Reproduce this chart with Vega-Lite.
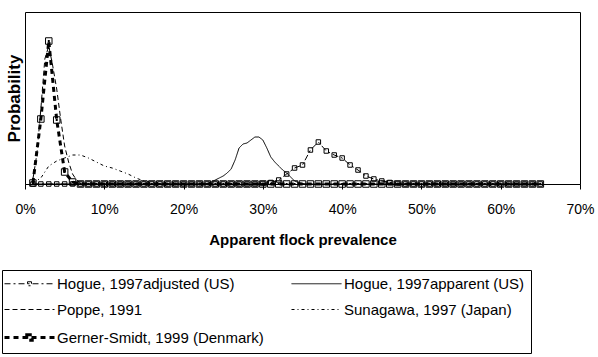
{
  "$schema": "https://vega.github.io/schema/vega-lite/v6.json",
  "autosize": {"type": "none"},
  "width": 555,
  "height": 172,
  "padding": {"left": 25, "top": 12, "right": 18, "bottom": 173},
  "background": "white",
  "config": {
    "font": "Liberation Sans",
    "view": {"stroke": "black", "strokeWidth": 1},
    "axis": {"labelFont": "Liberation Sans", "titleFont": "Liberation Sans", "labelColor": "black", "titleColor": "black", "domainColor": "black", "tickColor": "black", "grid": false}
  },
  "datasets": {
    "d": [
      {"series": "Hogue, 1997adjusted (US)", "prevalence": 0.01, "probability": 0},
      {"series": "Hogue, 1997adjusted (US)", "prevalence": 0.02, "probability": 0},
      {"series": "Hogue, 1997adjusted (US)", "prevalence": 0.03, "probability": 0},
      {"series": "Hogue, 1997adjusted (US)", "prevalence": 0.04, "probability": 0},
      {"series": "Hogue, 1997adjusted (US)", "prevalence": 0.05, "probability": 0},
      {"series": "Hogue, 1997adjusted (US)", "prevalence": 0.06, "probability": 0},
      {"series": "Hogue, 1997adjusted (US)", "prevalence": 0.07, "probability": 0},
      {"series": "Hogue, 1997adjusted (US)", "prevalence": 0.08, "probability": 0},
      {"series": "Hogue, 1997adjusted (US)", "prevalence": 0.09, "probability": 0},
      {"series": "Hogue, 1997adjusted (US)", "prevalence": 0.10, "probability": 0},
      {"series": "Hogue, 1997adjusted (US)", "prevalence": 0.11, "probability": 0},
      {"series": "Hogue, 1997adjusted (US)", "prevalence": 0.12, "probability": 0},
      {"series": "Hogue, 1997adjusted (US)", "prevalence": 0.13, "probability": 0},
      {"series": "Hogue, 1997adjusted (US)", "prevalence": 0.14, "probability": 0},
      {"series": "Hogue, 1997adjusted (US)", "prevalence": 0.15, "probability": 0},
      {"series": "Hogue, 1997adjusted (US)", "prevalence": 0.16, "probability": 0},
      {"series": "Hogue, 1997adjusted (US)", "prevalence": 0.17, "probability": 0},
      {"series": "Hogue, 1997adjusted (US)", "prevalence": 0.18, "probability": 0},
      {"series": "Hogue, 1997adjusted (US)", "prevalence": 0.19, "probability": 0},
      {"series": "Hogue, 1997adjusted (US)", "prevalence": 0.20, "probability": 0},
      {"series": "Hogue, 1997adjusted (US)", "prevalence": 0.21, "probability": 0},
      {"series": "Hogue, 1997adjusted (US)", "prevalence": 0.22, "probability": 0},
      {"series": "Hogue, 1997adjusted (US)", "prevalence": 0.23, "probability": 0},
      {"series": "Hogue, 1997adjusted (US)", "prevalence": 0.24, "probability": 0},
      {"series": "Hogue, 1997adjusted (US)", "prevalence": 0.25, "probability": 0},
      {"series": "Hogue, 1997adjusted (US)", "prevalence": 0.26, "probability": 0},
      {"series": "Hogue, 1997adjusted (US)", "prevalence": 0.27, "probability": 0},
      {"series": "Hogue, 1997adjusted (US)", "prevalence": 0.28, "probability": 0},
      {"series": "Hogue, 1997adjusted (US)", "prevalence": 0.29, "probability": 0},
      {"series": "Hogue, 1997adjusted (US)", "prevalence": 0.30, "probability": 0.0005},
      {"series": "Hogue, 1997adjusted (US)", "prevalence": 0.31, "probability": 0.0015},
      {"series": "Hogue, 1997adjusted (US)", "prevalence": 0.32, "probability": 0.004},
      {"series": "Hogue, 1997adjusted (US)", "prevalence": 0.33, "probability": 0.010},
      {"series": "Hogue, 1997adjusted (US)", "prevalence": 0.34, "probability": 0.016},
      {"series": "Hogue, 1997adjusted (US)", "prevalence": 0.35, "probability": 0.019},
      {"series": "Hogue, 1997adjusted (US)", "prevalence": 0.36, "probability": 0.034},
      {"series": "Hogue, 1997adjusted (US)", "prevalence": 0.37, "probability": 0.042},
      {"series": "Hogue, 1997adjusted (US)", "prevalence": 0.38, "probability": 0.033},
      {"series": "Hogue, 1997adjusted (US)", "prevalence": 0.39, "probability": 0.029},
      {"series": "Hogue, 1997adjusted (US)", "prevalence": 0.40, "probability": 0.026},
      {"series": "Hogue, 1997adjusted (US)", "prevalence": 0.41, "probability": 0.019},
      {"series": "Hogue, 1997adjusted (US)", "prevalence": 0.42, "probability": 0.014},
      {"series": "Hogue, 1997adjusted (US)", "prevalence": 0.43, "probability": 0.008},
      {"series": "Hogue, 1997adjusted (US)", "prevalence": 0.44, "probability": 0.005},
      {"series": "Hogue, 1997adjusted (US)", "prevalence": 0.45, "probability": 0.003},
      {"series": "Hogue, 1997adjusted (US)", "prevalence": 0.46, "probability": 0.0015},
      {"series": "Hogue, 1997adjusted (US)", "prevalence": 0.47, "probability": 0.0005},
      {"series": "Hogue, 1997adjusted (US)", "prevalence": 0.48, "probability": 0},
      {"series": "Hogue, 1997adjusted (US)", "prevalence": 0.49, "probability": 0},
      {"series": "Hogue, 1997adjusted (US)", "prevalence": 0.50, "probability": 0},
      {"series": "Hogue, 1997adjusted (US)", "prevalence": 0.51, "probability": 0},
      {"series": "Hogue, 1997adjusted (US)", "prevalence": 0.52, "probability": 0},
      {"series": "Hogue, 1997adjusted (US)", "prevalence": 0.53, "probability": 0},
      {"series": "Hogue, 1997adjusted (US)", "prevalence": 0.54, "probability": 0},
      {"series": "Hogue, 1997adjusted (US)", "prevalence": 0.55, "probability": 0},
      {"series": "Hogue, 1997adjusted (US)", "prevalence": 0.56, "probability": 0},
      {"series": "Hogue, 1997adjusted (US)", "prevalence": 0.57, "probability": 0},
      {"series": "Hogue, 1997adjusted (US)", "prevalence": 0.58, "probability": 0},
      {"series": "Hogue, 1997adjusted (US)", "prevalence": 0.59, "probability": 0},
      {"series": "Hogue, 1997adjusted (US)", "prevalence": 0.60, "probability": 0},
      {"series": "Hogue, 1997adjusted (US)", "prevalence": 0.61, "probability": 0},
      {"series": "Hogue, 1997adjusted (US)", "prevalence": 0.62, "probability": 0},
      {"series": "Hogue, 1997adjusted (US)", "prevalence": 0.63, "probability": 0},
      {"series": "Hogue, 1997adjusted (US)", "prevalence": 0.64, "probability": 0},
      {"series": "Hogue, 1997adjusted (US)", "prevalence": 0.65, "probability": 0},

      {"series": "Hogue, 1997apparent (US)", "prevalence": 0.01, "probability": 0},
      {"series": "Hogue, 1997apparent (US)", "prevalence": 0.05, "probability": 0},
      {"series": "Hogue, 1997apparent (US)", "prevalence": 0.10, "probability": 0},
      {"series": "Hogue, 1997apparent (US)", "prevalence": 0.15, "probability": 0},
      {"series": "Hogue, 1997apparent (US)", "prevalence": 0.20, "probability": 0},
      {"series": "Hogue, 1997apparent (US)", "prevalence": 0.22, "probability": 0},
      {"series": "Hogue, 1997apparent (US)", "prevalence": 0.23, "probability": 0.0005},
      {"series": "Hogue, 1997apparent (US)", "prevalence": 0.235, "probability": 0.002},
      {"series": "Hogue, 1997apparent (US)", "prevalence": 0.24, "probability": 0.004},
      {"series": "Hogue, 1997apparent (US)", "prevalence": 0.245, "probability": 0.006},
      {"series": "Hogue, 1997apparent (US)", "prevalence": 0.25, "probability": 0.008},
      {"series": "Hogue, 1997apparent (US)", "prevalence": 0.255, "probability": 0.011},
      {"series": "Hogue, 1997apparent (US)", "prevalence": 0.26, "probability": 0.015},
      {"series": "Hogue, 1997apparent (US)", "prevalence": 0.265, "probability": 0.024},
      {"series": "Hogue, 1997apparent (US)", "prevalence": 0.27, "probability": 0.036},
      {"series": "Hogue, 1997apparent (US)", "prevalence": 0.275, "probability": 0.040},
      {"series": "Hogue, 1997apparent (US)", "prevalence": 0.28, "probability": 0.041},
      {"series": "Hogue, 1997apparent (US)", "prevalence": 0.285, "probability": 0.044},
      {"series": "Hogue, 1997apparent (US)", "prevalence": 0.29, "probability": 0.047},
      {"series": "Hogue, 1997apparent (US)", "prevalence": 0.295, "probability": 0.047},
      {"series": "Hogue, 1997apparent (US)", "prevalence": 0.30, "probability": 0.044},
      {"series": "Hogue, 1997apparent (US)", "prevalence": 0.305, "probability": 0.036},
      {"series": "Hogue, 1997apparent (US)", "prevalence": 0.31, "probability": 0.027},
      {"series": "Hogue, 1997apparent (US)", "prevalence": 0.315, "probability": 0.022},
      {"series": "Hogue, 1997apparent (US)", "prevalence": 0.32, "probability": 0.018},
      {"series": "Hogue, 1997apparent (US)", "prevalence": 0.325, "probability": 0.014},
      {"series": "Hogue, 1997apparent (US)", "prevalence": 0.33, "probability": 0.011},
      {"series": "Hogue, 1997apparent (US)", "prevalence": 0.335, "probability": 0.007},
      {"series": "Hogue, 1997apparent (US)", "prevalence": 0.34, "probability": 0.003},
      {"series": "Hogue, 1997apparent (US)", "prevalence": 0.345, "probability": 0.0015},
      {"series": "Hogue, 1997apparent (US)", "prevalence": 0.35, "probability": 0.0005},
      {"series": "Hogue, 1997apparent (US)", "prevalence": 0.36, "probability": 0},
      {"series": "Hogue, 1997apparent (US)", "prevalence": 0.40, "probability": 0},
      {"series": "Hogue, 1997apparent (US)", "prevalence": 0.45, "probability": 0},
      {"series": "Hogue, 1997apparent (US)", "prevalence": 0.50, "probability": 0},
      {"series": "Hogue, 1997apparent (US)", "prevalence": 0.55, "probability": 0},
      {"series": "Hogue, 1997apparent (US)", "prevalence": 0.60, "probability": 0},
      {"series": "Hogue, 1997apparent (US)", "prevalence": 0.65, "probability": 0},

      {"series": "Poppe, 1991", "prevalence": 0.01, "probability": 0.005},
      {"series": "Poppe, 1991", "prevalence": 0.015, "probability": 0.030},
      {"series": "Poppe, 1991", "prevalence": 0.02, "probability": 0.075},
      {"series": "Poppe, 1991", "prevalence": 0.025, "probability": 0.125},
      {"series": "Poppe, 1991", "prevalence": 0.03, "probability": 0.138},
      {"series": "Poppe, 1991", "prevalence": 0.035, "probability": 0.118},
      {"series": "Poppe, 1991", "prevalence": 0.04, "probability": 0.095},
      {"series": "Poppe, 1991", "prevalence": 0.045, "probability": 0.065},
      {"series": "Poppe, 1991", "prevalence": 0.05, "probability": 0.038},
      {"series": "Poppe, 1991", "prevalence": 0.055, "probability": 0.022},
      {"series": "Poppe, 1991", "prevalence": 0.06, "probability": 0.010},
      {"series": "Poppe, 1991", "prevalence": 0.065, "probability": 0.004},
      {"series": "Poppe, 1991", "prevalence": 0.07, "probability": 0.001},
      {"series": "Poppe, 1991", "prevalence": 0.08, "probability": 0},
      {"series": "Poppe, 1991", "prevalence": 0.09, "probability": 0},
      {"series": "Poppe, 1991", "prevalence": 0.10, "probability": 0},

      {"series": "Sunagawa, 1997 (Japan)", "prevalence": 0.01, "probability": 0.001},
      {"series": "Sunagawa, 1997 (Japan)", "prevalence": 0.02, "probability": 0.006},
      {"series": "Sunagawa, 1997 (Japan)", "prevalence": 0.03, "probability": 0.018},
      {"series": "Sunagawa, 1997 (Japan)", "prevalence": 0.04, "probability": 0.023},
      {"series": "Sunagawa, 1997 (Japan)", "prevalence": 0.05, "probability": 0.026},
      {"series": "Sunagawa, 1997 (Japan)", "prevalence": 0.06, "probability": 0.029},
      {"series": "Sunagawa, 1997 (Japan)", "prevalence": 0.07, "probability": 0.029},
      {"series": "Sunagawa, 1997 (Japan)", "prevalence": 0.08, "probability": 0.026},
      {"series": "Sunagawa, 1997 (Japan)", "prevalence": 0.09, "probability": 0.022},
      {"series": "Sunagawa, 1997 (Japan)", "prevalence": 0.10, "probability": 0.018},
      {"series": "Sunagawa, 1997 (Japan)", "prevalence": 0.11, "probability": 0.016},
      {"series": "Sunagawa, 1997 (Japan)", "prevalence": 0.12, "probability": 0.013},
      {"series": "Sunagawa, 1997 (Japan)", "prevalence": 0.13, "probability": 0.010},
      {"series": "Sunagawa, 1997 (Japan)", "prevalence": 0.14, "probability": 0.006},
      {"series": "Sunagawa, 1997 (Japan)", "prevalence": 0.15, "probability": 0.003},
      {"series": "Sunagawa, 1997 (Japan)", "prevalence": 0.16, "probability": 0.0015},
      {"series": "Sunagawa, 1997 (Japan)", "prevalence": 0.17, "probability": 0},
      {"series": "Sunagawa, 1997 (Japan)", "prevalence": 0.18, "probability": 0},
      {"series": "Sunagawa, 1997 (Japan)", "prevalence": 0.19, "probability": 0},
      {"series": "Sunagawa, 1997 (Japan)", "prevalence": 0.20, "probability": 0},

      {"series": "Gerner-Smidt, 1999 (Denmark)", "prevalence": 0.01, "probability": 0.001},
      {"series": "Gerner-Smidt, 1999 (Denmark)", "prevalence": 0.02, "probability": 0.065},
      {"series": "Gerner-Smidt, 1999 (Denmark)", "prevalence": 0.03, "probability": 0.143},
      {"series": "Gerner-Smidt, 1999 (Denmark)", "prevalence": 0.04, "probability": 0.064},
      {"series": "Gerner-Smidt, 1999 (Denmark)", "prevalence": 0.05, "probability": 0.012},
      {"series": "Gerner-Smidt, 1999 (Denmark)", "prevalence": 0.06, "probability": 0.002},
      {"series": "Gerner-Smidt, 1999 (Denmark)", "prevalence": 0.07, "probability": 0},
      {"series": "Gerner-Smidt, 1999 (Denmark)", "prevalence": 0.08, "probability": 0},
      {"series": "Gerner-Smidt, 1999 (Denmark)", "prevalence": 0.09, "probability": 0},
      {"series": "Gerner-Smidt, 1999 (Denmark)", "prevalence": 0.10, "probability": 0},
      {"series": "Gerner-Smidt, 1999 (Denmark)", "prevalence": 0.11, "probability": 0},
      {"series": "Gerner-Smidt, 1999 (Denmark)", "prevalence": 0.12, "probability": 0},
      {"series": "Gerner-Smidt, 1999 (Denmark)", "prevalence": 0.13, "probability": 0},
      {"series": "Gerner-Smidt, 1999 (Denmark)", "prevalence": 0.14, "probability": 0},
      {"series": "Gerner-Smidt, 1999 (Denmark)", "prevalence": 0.15, "probability": 0},
      {"series": "Gerner-Smidt, 1999 (Denmark)", "prevalence": 0.16, "probability": 0},
      {"series": "Gerner-Smidt, 1999 (Denmark)", "prevalence": 0.17, "probability": 0},
      {"series": "Gerner-Smidt, 1999 (Denmark)", "prevalence": 0.18, "probability": 0},
      {"series": "Gerner-Smidt, 1999 (Denmark)", "prevalence": 0.19, "probability": 0},
      {"series": "Gerner-Smidt, 1999 (Denmark)", "prevalence": 0.20, "probability": 0},
      {"series": "Gerner-Smidt, 1999 (Denmark)", "prevalence": 0.21, "probability": 0},
      {"series": "Gerner-Smidt, 1999 (Denmark)", "prevalence": 0.22, "probability": 0},
      {"series": "Gerner-Smidt, 1999 (Denmark)", "prevalence": 0.23, "probability": 0},
      {"series": "Gerner-Smidt, 1999 (Denmark)", "prevalence": 0.24, "probability": 0},
      {"series": "Gerner-Smidt, 1999 (Denmark)", "prevalence": 0.25, "probability": 0},
      {"series": "Gerner-Smidt, 1999 (Denmark)", "prevalence": 0.26, "probability": 0},
      {"series": "Gerner-Smidt, 1999 (Denmark)", "prevalence": 0.27, "probability": 0},
      {"series": "Gerner-Smidt, 1999 (Denmark)", "prevalence": 0.28, "probability": 0},
      {"series": "Gerner-Smidt, 1999 (Denmark)", "prevalence": 0.29, "probability": 0},
      {"series": "Gerner-Smidt, 1999 (Denmark)", "prevalence": 0.30, "probability": 0},
      {"series": "Gerner-Smidt, 1999 (Denmark)", "prevalence": 0.31, "probability": 0},
      {"series": "Gerner-Smidt, 1999 (Denmark)", "prevalence": 0.32, "probability": 0},
      {"series": "Gerner-Smidt, 1999 (Denmark)", "prevalence": 0.33, "probability": 0},
      {"series": "Gerner-Smidt, 1999 (Denmark)", "prevalence": 0.34, "probability": 0},
      {"series": "Gerner-Smidt, 1999 (Denmark)", "prevalence": 0.35, "probability": 0},
      {"series": "Gerner-Smidt, 1999 (Denmark)", "prevalence": 0.36, "probability": 0},
      {"series": "Gerner-Smidt, 1999 (Denmark)", "prevalence": 0.37, "probability": 0},
      {"series": "Gerner-Smidt, 1999 (Denmark)", "prevalence": 0.38, "probability": 0},
      {"series": "Gerner-Smidt, 1999 (Denmark)", "prevalence": 0.39, "probability": 0},
      {"series": "Gerner-Smidt, 1999 (Denmark)", "prevalence": 0.40, "probability": 0},
      {"series": "Gerner-Smidt, 1999 (Denmark)", "prevalence": 0.41, "probability": 0},
      {"series": "Gerner-Smidt, 1999 (Denmark)", "prevalence": 0.42, "probability": 0},
      {"series": "Gerner-Smidt, 1999 (Denmark)", "prevalence": 0.43, "probability": 0},
      {"series": "Gerner-Smidt, 1999 (Denmark)", "prevalence": 0.44, "probability": 0},
      {"series": "Gerner-Smidt, 1999 (Denmark)", "prevalence": 0.45, "probability": 0},
      {"series": "Gerner-Smidt, 1999 (Denmark)", "prevalence": 0.46, "probability": 0},
      {"series": "Gerner-Smidt, 1999 (Denmark)", "prevalence": 0.47, "probability": 0},
      {"series": "Gerner-Smidt, 1999 (Denmark)", "prevalence": 0.48, "probability": 0},
      {"series": "Gerner-Smidt, 1999 (Denmark)", "prevalence": 0.49, "probability": 0},
      {"series": "Gerner-Smidt, 1999 (Denmark)", "prevalence": 0.50, "probability": 0},
      {"series": "Gerner-Smidt, 1999 (Denmark)", "prevalence": 0.51, "probability": 0},
      {"series": "Gerner-Smidt, 1999 (Denmark)", "prevalence": 0.52, "probability": 0},
      {"series": "Gerner-Smidt, 1999 (Denmark)", "prevalence": 0.53, "probability": 0},
      {"series": "Gerner-Smidt, 1999 (Denmark)", "prevalence": 0.54, "probability": 0},
      {"series": "Gerner-Smidt, 1999 (Denmark)", "prevalence": 0.55, "probability": 0},
      {"series": "Gerner-Smidt, 1999 (Denmark)", "prevalence": 0.56, "probability": 0},
      {"series": "Gerner-Smidt, 1999 (Denmark)", "prevalence": 0.57, "probability": 0},
      {"series": "Gerner-Smidt, 1999 (Denmark)", "prevalence": 0.58, "probability": 0},
      {"series": "Gerner-Smidt, 1999 (Denmark)", "prevalence": 0.59, "probability": 0},
      {"series": "Gerner-Smidt, 1999 (Denmark)", "prevalence": 0.60, "probability": 0},
      {"series": "Gerner-Smidt, 1999 (Denmark)", "prevalence": 0.61, "probability": 0},
      {"series": "Gerner-Smidt, 1999 (Denmark)", "prevalence": 0.62, "probability": 0},
      {"series": "Gerner-Smidt, 1999 (Denmark)", "prevalence": 0.63, "probability": 0},
      {"series": "Gerner-Smidt, 1999 (Denmark)", "prevalence": 0.64, "probability": 0},
      {"series": "Gerner-Smidt, 1999 (Denmark)", "prevalence": 0.65, "probability": 0}
    ]
  },
  "data": {"name": "d"},
  "encoding": {
    "x": {
      "field": "prevalence", "type": "quantitative",
      "scale": {"domain": [0, 0.7], "nice": false},
      "axis": {
        "format": ".0%", "values": [0, 0.1, 0.2, 0.3, 0.4, 0.5, 0.6, 0.7],
        "tickSize": 5, "labelFontSize": 14, "labelPadding": 13, "labelFlush": false, "labelOverlap": false,
        "title": "Apparent flock prevalence", "titleFontSize": 15, "titleFontWeight": "bold", "titlePadding": 16
      }
    },
    "y": {
      "field": "probability", "type": "quantitative",
      "scale": {"domain": [0, 0.172], "nice": false},
      "axis": {"labels": false, "ticks": false, "domain": false, "title": "Probability", "titleFontSize": 17, "titleFontWeight": "bold", "titlePadding": 2}
    }
  },
  "layer": [
    {
      "mark": {"type": "line", "color": "black", "strokeCap": "butt"},
      "encoding": {
        "strokeDash": {
          "field": "series", "type": "nominal",
          "scale": {
            "domain": ["Hogue, 1997adjusted (US)", "Hogue, 1997apparent (US)", "Poppe, 1991", "Sunagawa, 1997 (Japan)", "Gerner-Smidt, 1999 (Denmark)"],
            "range": [[6, 3, 2, 3], [1, 0], [5, 3], [3, 3, 1, 3], [5, 4]]
          },
          "legend": {
            "orient": "none", "legendX": -23, "legendY": 258,
            "direction": "horizontal",
            "columns": 2, "gridAlign": "each", "title": null,
            "symbolType": "stroke", "symbolSize": 2500, "symbolStrokeColor": "black", "symbolStrokeWidth": 1,
            "symbolOffset": 14,
            "labelFont": "Liberation Sans", "labelFontSize": 15, "labelColor": "black", "labelOffset": 20, "labelLimit": 400,
            "columnPadding": 25, "rowPadding": 10, "padding": 6,
            "strokeColor": "black", "fillColor": "white",
            "encode": {
              "symbols": {
                "update": {
                  "shape": {"signal": "datum.value === 'Hogue, 1997adjusted (US)' ? 'M-1,0H1M-0.08,-0.08H0.08V0.08H-0.08Z' : datum.value === 'Gerner-Smidt, 1999 (Denmark)' ? 'M-1,0H1M-0.11,-0.11H0.11V0.11H-0.11Z' : 'stroke'"},
                  "strokeWidth": {"signal": "datum.value === 'Gerner-Smidt, 1999 (Denmark)' ? 3 : 1"}
                }
              },
              "labels": {
                "update": {
                  "text": {"signal": "(datum.value === 'Hogue, 1997apparent (US)' || datum.value === 'Sunagawa, 1997 (Japan)') ? datum.value + '\u00a0\u00a0\u00a0\u00a0\u00a0\u00a0\u00a0\u00a0\u00a0\u00a0\u00a0' : datum.value"}
                }
              }
            }
          }
        },
        "strokeWidth": {
          "condition": {"test": "datum.series === 'Gerner-Smidt, 1999 (Denmark)'", "value": 3},
          "value": 1
        }
      }
    },
    {
      "transform": [{"filter": "datum.series === 'Hogue, 1997adjusted (US)'"}],
      "mark": {"type": "point", "shape": "square", "filled": false, "color": "black", "size": 20, "strokeWidth": 1, "opacity": 1}
    },
    {
      "transform": [{"filter": "datum.series === 'Gerner-Smidt, 1999 (Denmark)'"}],
      "mark": {"type": "point", "shape": "square", "filled": false, "color": "black", "size": 42, "strokeWidth": 1, "opacity": 1}
    },
    {
      "transform": [{"filter": "datum.series === 'Gerner-Smidt, 1999 (Denmark)'"}],
      "mark": {"type": "point", "shape": "square", "filled": true, "color": "black", "size": 4, "opacity": 1}
    }
  ]
}
